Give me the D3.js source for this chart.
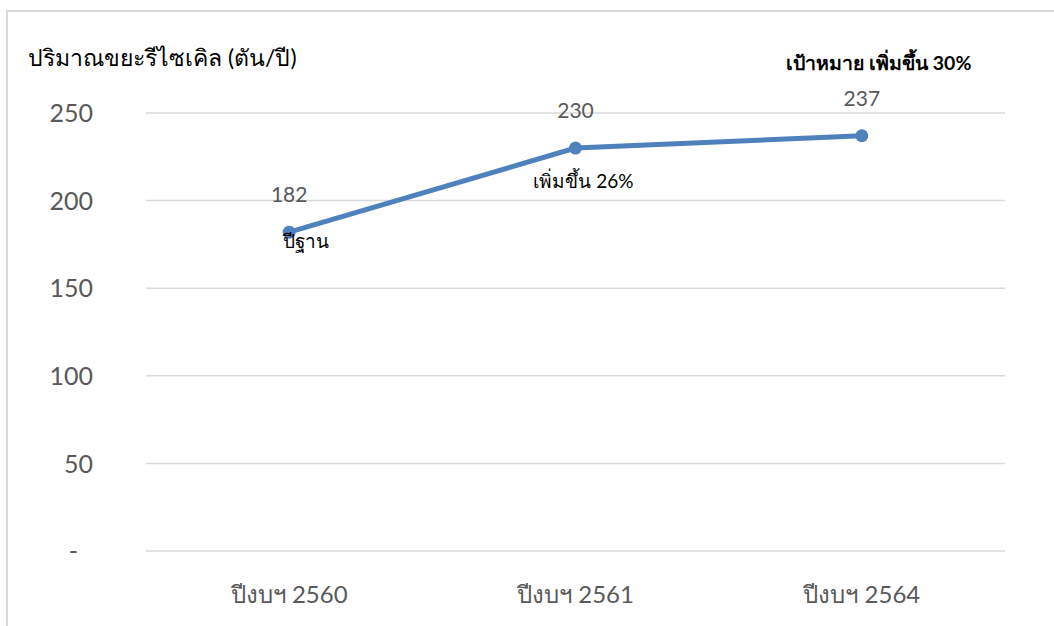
<html>
  <head>
    <script src="https://cdnjs.cloudflare.com/ajax/libs/d3/7.8.5/d3.min.js"></script>
    <meta charset="utf-8">
  </head>
  <body>
    <svg id="chart"></svg>

    <style>
      body {
        margin: 0;
        background: #fff;
        font-family: Lato, 'Noto Sans', 'DejaVu Sans', sans-serif;
      }
      #chart {
        display: block;
      }
      .grid line {
        stroke: #d9d9d9;
        stroke-width: 1.5;
      }
      .axis path, .axis line {
        stroke: none;
      }
      .axis text {
        fill: #595959;
        font-family: Lato, sans-serif;
      }
    </style>

    <script>
      // Data
      const years = ['ปีงบฯ 2560', 'ปีงบฯ 2561', 'ปีงบฯ 2564'];
      const amounts = [182, 230, 237];
      const notes = ['ปีฐาน', 'เพิ่มขึ้น 26%', 'เป้าหมาย เพิ่มขึ้น 30%'];
      const yTicks = [0, 50, 100, 150, 200, 250];
      const yTitle = 'ปริมาณขยะรีไซเคิล (ตัน/ปี)';

      const W = 1054, H = 626;
      const margin = {top: 113, right: 49, bottom: 75, left: 146};
      const width = W - margin.left - margin.right;
      const height = H - margin.top - margin.bottom;

      const svg = d3.select('#chart')
        .attr('width', W)
        .attr('height', H);

      // Frame of the chart area (cropped at right/bottom)
      svg.append('path')
        .attr('d', 'M7,' + H + 'V11H' + W)
        .attr('fill', 'none')
        .attr('stroke', '#d9d9d9')
        .attr('stroke-width', 2);

      const g = svg.append('g')
        .attr('transform', 'translate(' + margin.left + ',' + margin.top + ')');

      const x = d3.scaleBand().domain(years).range([0, width]);
      const y = d3.scaleLinear().domain([0, 250]).range([height, 0]);

      // Gridlines
      g.append('g')
        .attr('class', 'grid')
        .selectAll('line')
        .data(yTicks)
        .enter().append('line')
        .attr('x1', 0)
        .attr('x2', width)
        .attr('y1', d => y(d))
        .attr('y2', d => y(d));

      // Y axis
      g.append('g')
        .attr('class', 'axis axis-y')
        .attr('transform', 'translate(-50,0)')
        .call(d3.axisLeft(y).tickValues(yTicks).tickSize(0)
          .tickFormat(d => d === 0 ? '-' : d))
        .selectAll('text')
        .style('font-size', '25px')
        .attr('dy', '0.35em')
        .attr('dx', d => d === 0 ? -15 : 0);

      // X axis
      g.append('g')
        .attr('class', 'axis axis-x')
        .attr('transform', 'translate(0,' + height + ')')
        .call(d3.axisBottom(x).tickSize(0).tickPadding(35))
        .selectAll('text')
        .style('font-size', '24px');

      // Y title
      svg.append('text')
        .attr('x', 28)
        .attr('y', 66)
        .style('font-size', '23px')
        .style('fill', '#000')
        .text(yTitle);

      const data = years.map((d, i) => ({year: d, value: amounts[i], note: notes[i]}));
      const cx = d => x(d.year) + x.bandwidth() / 2;

      // Line
      g.append('path')
        .datum(data)
        .attr('fill', 'none')
        .attr('stroke', '#4f81bd')
        .attr('stroke-width', 5)
        .attr('stroke-linecap', 'round')
        .attr('d', d3.line().x(cx).y(d => y(d.value)));

      // Markers
      g.selectAll('.dot')
        .data(data)
        .enter().append('circle')
        .attr('class', 'dot')
        .attr('cx', cx)
        .attr('cy', d => y(d.value))
        .attr('r', 6.5)
        .attr('fill', '#4f81bd');

      // Value labels
      g.selectAll('.val')
        .data(data)
        .enter().append('text')
        .attr('class', 'val')
        .attr('x', cx)
        .attr('y', d => y(d.value) - 30)
        .attr('text-anchor', 'middle')
        .style('font-size', '21px')
        .style('fill', '#595959')
        .text(d => d.value);

      // Notes
      g.append('text')
        .attr('x', cx(data[0]) - 6)
        .attr('y', y(data[0].value) + 16)
        .style('font-size', '19px')
        .style('fill', '#000')
        .text(data[0].note);

      g.append('text')
        .attr('x', cx(data[1]) + 8)
        .attr('y', y(data[1].value) + 40)
        .attr('text-anchor', 'middle')
        .style('font-size', '19px')
        .style('fill', '#000')
        .text(data[1].note);

      g.append('text')
        .attr('x', cx(data[2]) + 17)
        .attr('y', y(data[2].value) - 66)
        .attr('text-anchor', 'middle')
        .style('font-size', '19.5px')
        .style('font-weight', 'bold')
        .style('fill', '#000')
        .text(data[2].note);
    </script>
  </body>
</html>
